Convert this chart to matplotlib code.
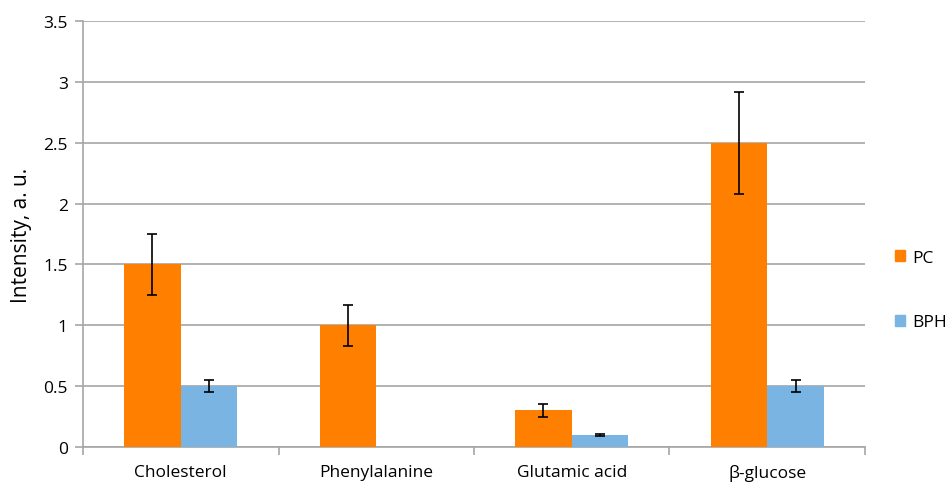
import matplotlib.pyplot as plt
import numpy as np
from matplotlib.patches import Patch

plt.rcParams['font.family'] = ['Open Sans', 'DejaVu Sans']

# Data
categories = ["Cholesterol", "Phenylalanine", "Glutamic acid", "β-glucose"]
pc_vals = [1.5, 1.0, 0.3, 2.5]
pc_err = [0.25, 0.17, 0.05, 0.42]
bph_vals = [0.5, 0.0, 0.1, 0.5]
bph_err = [0.05, 0.0, 0.01, 0.05]

pc_color = '#ff8000'
bph_color = '#7ab4e3'
grid_color = '#a6a6a6'

fig = plt.figure(figsize=(9.5, 4.85), dpi=100)
ax = fig.add_axes([0.0874, 0.0763, 0.8231, 0.8783])

x = np.arange(len(categories))
w = 0.29
ekw = dict(ecolor='black', elinewidth=1.2, capsize=3.5, capthick=1.2, zorder=4)
ax.bar(x - w / 2, pc_vals, w, color=pc_color, zorder=3)
ax.errorbar(x - w / 2, pc_vals, yerr=pc_err, fmt='none', **ekw)
ax.bar(x + w / 2, bph_vals, w, color=bph_color, zorder=3)
# no error bar where there is no bar
keep = [i for i, v in enumerate(bph_vals) if v > 0]
ax.errorbar(x[keep] + w / 2, [bph_vals[i] for i in keep],
            yerr=[bph_err[i] for i in keep], fmt='none', **ekw)

ax.set_xlim(-0.5, len(categories) - 0.5)
ax.set_ylim(0, 3.5)
ax.set_yticks(np.arange(0, 3.51, 0.5))
ax.set_yticklabels(['0', '0.5', '1', '1.5', '2', '2.5', '3', '3.5'])
ax.yaxis.grid(True, color=grid_color, linewidth=1.2, zorder=0)
ax.set_axisbelow(True)

ax.set_xticks(x)
ax.set_xticklabels(categories)
ax.set_xticks(np.arange(-0.5, len(categories), 1), minor=True)
ax.tick_params(axis='x', which='major', length=0, pad=12, labelsize=12.5)
ax.tick_params(axis='x', which='minor', length=6, color=grid_color, width=1.2)
ax.tick_params(axis='y', length=6, color=grid_color, width=1.2, labelsize=12.5, pad=5)

for s in ['top', 'right']:
    ax.spines[s].set_visible(False)
for s in ['left', 'bottom']:
    ax.spines[s].set_color(grid_color)
    ax.spines[s].set_linewidth(1.2)

ax.set_ylabel('Intensity, a. u.', fontsize=15, labelpad=8)

handles = [Patch(color=pc_color, label='PC'), Patch(color=bph_color, label='BPH')]
fig.legend(handles=handles, loc='center left', bbox_to_anchor=(0.942, 0.40),
           frameon=False, handlelength=0.6, handleheight=0.6, handletextpad=0.4,
           labelspacing=2.8, fontsize=12.5, borderpad=0, borderaxespad=0)

fig.savefig('out.png', dpi=100)
